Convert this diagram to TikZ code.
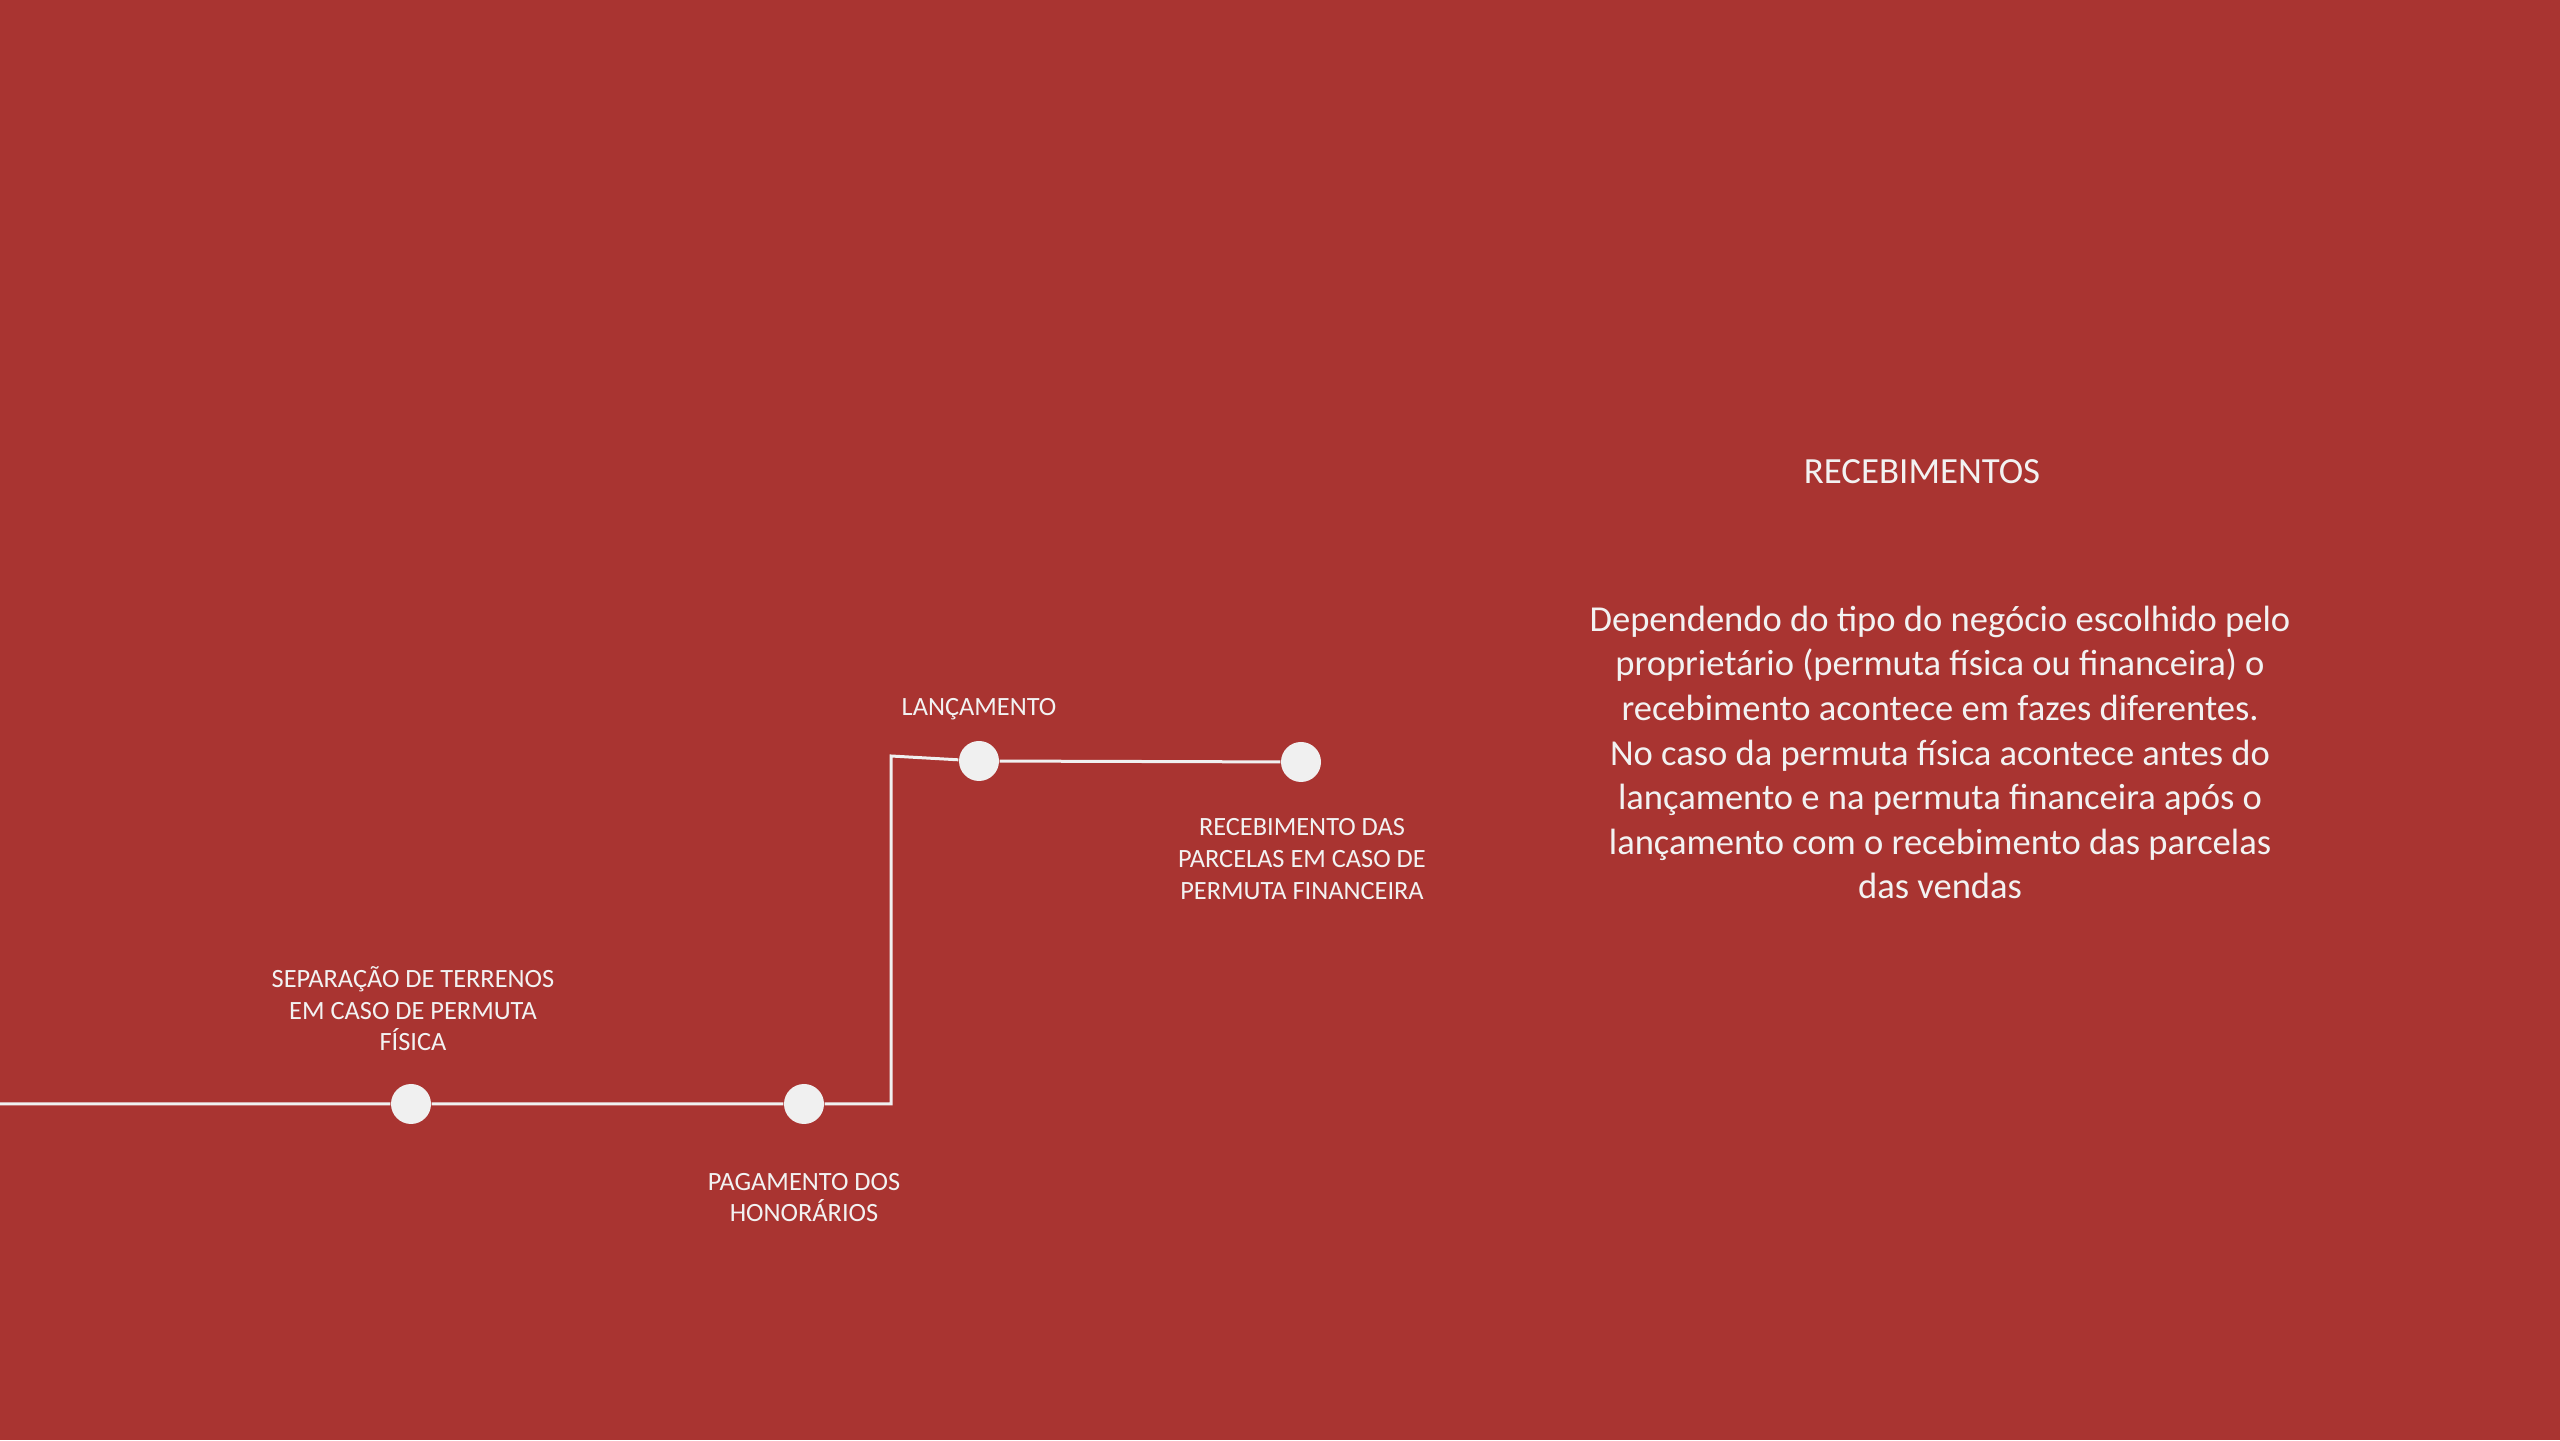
\documentclass[tikz,border=0pt]{standalone}
\usepackage{fontspec}
\setmainfont{Carlito}
\usetikzlibrary{positioning}
\definecolor{bg-red}{HTML}{A93431}
\definecolor{dot-grey}{HTML}{F0F0F0}
\definecolor{label-white}{HTML}{F2F2F2}
\newlength{\basisb}
\setlength{\basisb}{1cm}

\tikzset{
    milestone/.style={circle, fill=dot-grey, minimum size=0.4\basisb, inner sep=0pt},
    steplabel/.style={anchor=base, align=center, text=label-white, inner sep=0pt, font=\fontsize{7.5}{9.1}\selectfont},
    timeline/.style={draw=dot-grey, line width=0.03\basisb},
}

\begin{document}
\begin{tikzpicture}
    % slide background
    \fill[bg-red] (0,0) rectangle (25.6\basisb,14.4\basisb);
    \useasboundingbox (0,0) rectangle (25.6\basisb,14.4\basisb);

    % milestones
    \draw (4.11\basisb,3.36\basisb) node[milestone] (Separacao) {};
    \draw (8.04\basisb,3.36\basisb) node[milestone] (Pagamento) {};
    \draw (9.79\basisb,6.79\basisb) node[milestone] (Lancamento) {};
    \draw (13.01\basisb,6.78\basisb) node[milestone] (Recebimento) {};

    \coordinate (Start) at (0\basisb,3.36\basisb);
    \coordinate (Step Bottom) at (8.91\basisb,3.36\basisb);
    \coordinate (Step Top) at (8.91\basisb,6.84\basisb);

    \draw[timeline] (Start) -- (Separacao) -- (Pagamento) -- (Step Bottom) -- (Step Top) -- (Lancamento) -- (Recebimento);

    % labels (base = last line)
    \draw (4.13\basisb,3.89\basisb) 
        node[steplabel] (Separacao Label) {SEPARAÇÃO DE TERRENOS\\EM CASO DE PERMUTA\\FÍSICA};
    \draw (8.04\basisb,2.18\basisb) 
        node[steplabel] (Pagamento Label) {PAGAMENTO DOS\\HONORÁRIOS};
    \draw (9.79\basisb,7.24\basisb) 
        node[steplabel] (Lancamento Label) {LANÇAMENTO};
    \draw (13.02\basisb,5.405\basisb) 
        node[steplabel] (Recebimento Label) {RECEBIMENTO DAS\\PARCELAS EM CASO DE\\PERMUTA FINANCEIRA};

    % text on the right
    \draw (19.22\basisb,9.565\basisb) 
        node[steplabel, font=\fontsize{10.5}{13}\selectfont] (Title) {RECEBIMENTOS};
    \draw (19.40\basisb,5.41\basisb) 
        node[steplabel, font=\fontsize{10.4}{12.7}\selectfont] (Description) {Dependendo do tipo do negócio escolhido pelo\\proprietário (permuta física ou financeira) o\\recebimento acontece em fazes diferentes.\\No caso da permuta física acontece antes do\\lançamento e na permuta financeira após o\\lançamento com o recebimento das parcelas\\das vendas};
\end{tikzpicture}
\end{document}
